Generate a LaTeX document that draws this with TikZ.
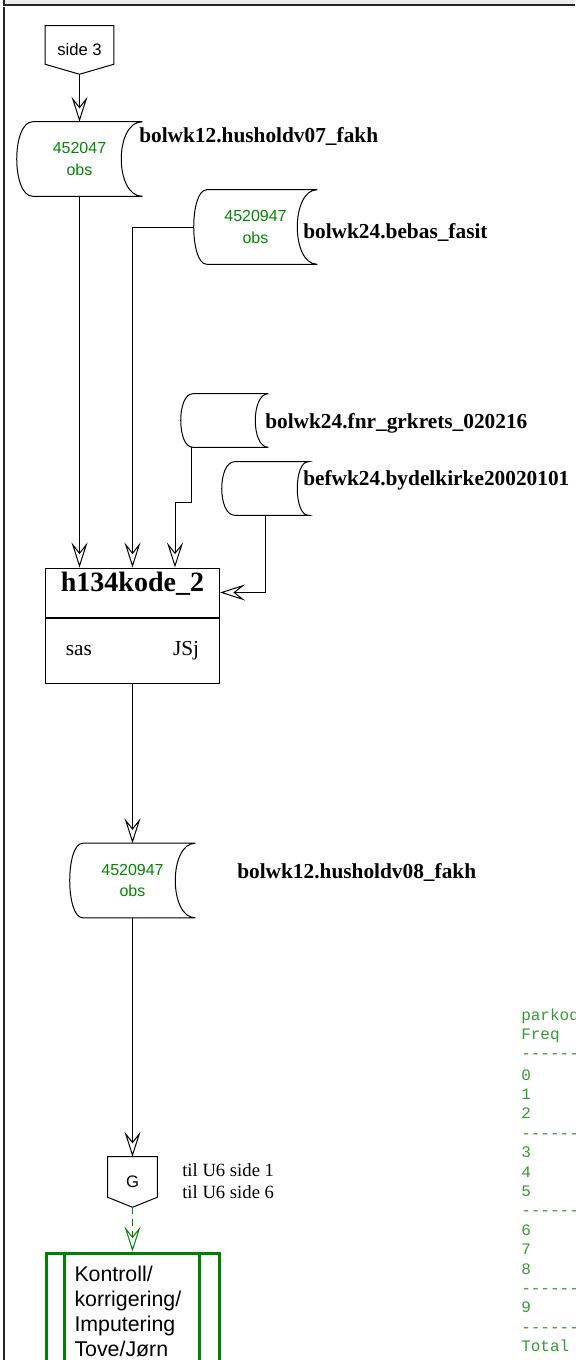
\documentclass[tikz,border=0pt]{standalone}
\usepackage{fontspec}
\setmainfont{Liberation Serif}
\setsansfont{Liberation Sans}
\setmonofont{Liberation Mono}[Ligatures=TeXOff]
\usepackage{tikz}
\usetikzlibrary{arrows.meta,positioning,calc}
\definecolor{storegreen}{RGB}{0,135,0}
\definecolor{freqgreen}{RGB}{50,155,50}
\definecolor{boxgreen}{RGB}{0,128,0}
\definecolor{framegray}{RGB}{236,236,236}
\tikzset{
  line/.style={line width=0.75pt},
  arrow/.style={line,-{Stealth[open,length=18.75pt,width=12pt,inset=7.5pt]}},
  store/.style={minimum width=#1,minimum height=55.5pt,inner sep=0pt,
                align=center,text=storegreen,
                font=\sffamily\fontsize{12}{16}\selectfont},
  store/.default=93.75pt,
  storelabel/.style={anchor=west,inner sep=0pt,
                     font=\bfseries\fontsize{16}{19}\selectfont},
  offpage/.style={minimum width=#1,minimum height=36pt,inner sep=0pt,
                  font=\sffamily\fontsize{12.5}{14}\selectfont},
  freq/.style={anchor=base west,inner sep=0pt,text=freqgreen,
               font=\ttfamily\fontsize{12}{14}\selectfont},
}
% outline of a stored data set: name, left bulge, right bulge
\newcommand{\storeoutline}[3]{%
  \draw[line] ($(#1.north west)+(#2,0)$) -- (#1.north east)
    .. controls ($(#1.north east)+(-4/3*#3,0)$)
            and ($(#1.south east)+(-4/3*#3,0)$) .. (#1.south east)
    -- ($(#1.south west)+(#2,0)$)
    .. controls ($(#1.south west)+(-#2/3,0)$)
            and ($(#1.north west)+(-#2/3,0)$) .. ($(#1.north west)+(#2,0)$);}
% outline of an off-page connector pointing down
\newcommand{\pageoutline}[1]{%
  \draw[line] (#1.south) -- ($(#1.south west)+(0,-10)$) -- (#1.north west)
    -- (#1.north east) -- ($(#1.south east)+(0,-10)$) -- cycle;}

\begin{document}
\begin{tikzpicture}[x=0.75pt,y=-0.75pt]
  \useasboundingbox (0,0) rectangle (575,1360);
  \clip (0,0) rectangle (575,1360);

  % frame
  \fill[framegray] (4,0) rectangle (575,5);
  \draw[line width=1pt,black!85] (4,0) -- (4,5) -- (575,5);
  \draw[line width=1pt,black!85] (4,7) -- (4,1360);

  \node[offpage=51pt] (side3) at (79.5,50) {side 3};
  \pageoutline{side3}

  \node[store] (hush07) at (79.5,159) {452047\\obs};
  \storeoutline{hush07}{16}{21}
  \node[storelabel] (lbl07) at (139,136) {bolwk12.husholdv07\_fakh};

  \node[store=92.25pt] (bebas) at (255.5,227) {4520947\\obs};
  \storeoutline{bebas}{13}{20}
  \node[storelabel] (lblbebas) at (303,232) {bolwk24.bebas\_fasit};

  \node[store=65.25pt,minimum height=39.75pt] (grkrets) at (224.5,420.5) {};
  \storeoutline{grkrets}{12}{13}
  \node[storelabel] (lblgrkrets) at (265,423) {bolwk24.fnr\_grkrets\_020216};

  \node[store=64.5pt,minimum height=39.75pt] (kirke) at (265,488.5) {};
  \storeoutline{kirke}{13}{11}
  \node[storelabel] (lblkirke) at (303,480) {befwk24.bydelkirke20020101};

  \node[draw,line,minimum width=130.5pt,minimum height=36.75pt,inner sep=0pt,
        text height=14pt,text depth=15pt,
        font=\bfseries\fontsize{21}{25}\selectfont] (h134) at (132.5,592.5) {h134kode\_2};
  \node[draw,line,minimum width=130.5pt,minimum height=48.75pt,below=0pt of h134,
        text width=100pt,font=\fontsize{16}{19}\selectfont] (h134body) {sas\hfill JSj};

  \node[store] (hush08) at (132.5,880.5) {4520947\\obs};
  \storeoutline{hush08}{13}{20}
  \node[storelabel] (lbl08) at (237,872) {bolwk12.husholdv08\_fakh};

  \node[offpage=36.75pt,minimum height=37.5pt] (G) at (132.5,1182) {G};
  \pageoutline{G}
  \node[anchor=west,inner sep=0pt,align=left,font=\fontsize{14}{16.5}\selectfont]
    (tilU6) at (182,1181) {til U6 side 1\\til U6 side 6};

  \node[draw=boxgreen,line width=2.25pt,minimum width=129.75pt,minimum height=87.75pt,
        text width=87pt,align=left,font=\sffamily\fontsize{16}{18.75}\selectfont]
    (kontroll) at (132.5,1311.5) {Kontroll/\\korrigering/\\Imputering\\Tove/Jørn};
  \draw[boxgreen,line width=2.25pt]
    ($(kontroll.north west)+(20,0)$) -- ($(kontroll.south west)+(20,0)$)
    ($(kontroll.north east)+(-21,0)$) -- ($(kontroll.south east)+(-21,0)$);

  % connectors
  \draw[arrow] (side3) -- (hush07);
  \draw[arrow] (hush07) -- (hush07 |- h134.north);
  \draw[arrow] (bebas.west) -| (h134.north);
  \draw[arrow] ($(grkrets.south west)+(11,0)$) -- ++(0,55)
    -| ($(h134.north west)+(130,0)$);
  \draw[arrow] (kirke.south) |- (h134.east);
  \draw[arrow] (h134body) -- (hush08);
  \draw[arrow] (hush08) -- (G);
  \draw[arrow,boxgreen,dash pattern=on 5pt off 4pt] (G) -- (kontroll);

  % frequency table
  \node[freq] (fhead) at (521,1020.5) {parkode};
  \node[freq] (ffreq) at (521,1039) {Freq};
  \node[freq] (fdash) at (521,1058) {---------};
  \foreach \t [count=\i from 0] in {0,1,2,---------,3,4,5,---------,
                                    6,7,8,---------,9,---------,Total}
    \node[freq] (frow\i) at (521,{1080+19.4*\i}) {\t};
\end{tikzpicture}
\end{document}
